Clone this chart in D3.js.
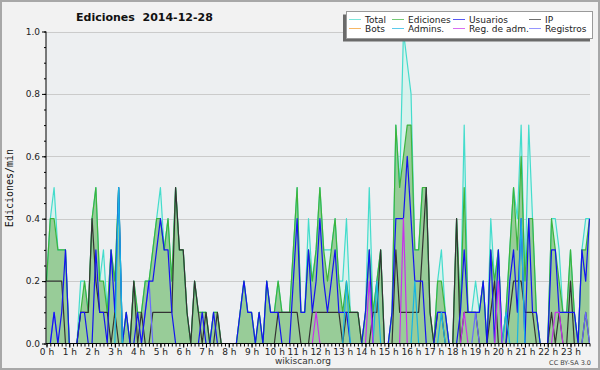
<!DOCTYPE html>
<html>
<head>
<meta charset="utf-8">
<script src="https://cdn.jsdelivr.net/npm/d3@7"></script>
<style>
  body { margin: 0; background: #f2f2f2; }
  svg { display: block; font-family: "DejaVu Sans", sans-serif; }
</style>
</head>
<body>
<div id="chart"></div>
<script>
// etiquetas de horas
const hours = d3.range(24).map(h => h + " h");
const yTicks = [0, 0.2, 0.4, 0.6, 0.8, 1.0];

// ediciones/min por tramos de 10 min (144 puntos)
const total = [
  .2,.4,.5,.3,.3,.3, 0,0,0,.2,.2,.1, .4,.5,.2,.3,.1,.3, .2,.5,0,.1,0,.2,
  .1,.1,.2,.2,.3,.4, .5,.3,.4,.2,.5,.3, .3,.1,0,.2,.1,.1, .1,0,.1,.1,0,0,
  0,0,0,.1,.2,.1, .1,0,.1,0,.2,.1, .1,.2,.1,.1,.1,.3, .5,.1,.1,.4,.2,.3,
  .5,.3,.3,.3,.4,.2, .2,.4,.1,.1,.1,0, .1,.5,.1,.2,.3,0, 0,.1,.7,.5,1.0,.9,
  .8,.3,.3,.5,.5,.1, 0,.2,.3,.1,0,0, .4,.1,.7,.1,.1,.2, .1,.2,0,.4,.2,.3,
  0,.1,.3,.5,.4,.7, .2,.7,.4,.1,0,0, 0,.4,.4,.3,.1,.1, .3,.1,0,.3,.4,.4
];
const ediciones = [
  .2,.4,.4,.3,.3,.3, 0,0,0,.1,.2,.1, .4,.5,.2,.2,.1,.3, .2,.5,0,.1,0,.2,
  .1,.1,.2,.2,.3,.4, .4,.3,.4,.2,.5,.3, .3,.1,0,.2,.1,.1, .1,0,.1,.1,0,0,
  0,0,0,.1,.2,.1, .1,0,.1,0,.2,.1, .1,.2,.1,.1,.1,.3, .5,.1,.1,.3,.2,.3,
  .5,.3,.2,.3,.4,.2, .1,.2,.1,.1,.1,0, .1,.3,.1,.2,.3,0, 0,.1,.7,.5,.6,.7,
  .7,.3,.3,.5,.5,.1, 0,.2,.2,.1,0,0, .4,.1,.5,.1,.1,.1, .1,.2,0,.3,.2,.3,
  0,.1,.3,.5,.3,.6, .2,.4,.4,.1,0,0, 0,.4,.3,.2,.1,.1, .3,.1,0,.3,.3,.4
];
const usuarios = [
  0,0,.1,0,.1,.3, 0,0,0,.1,.1,0, 0,.3,.1,.1,0,.3, .1,.5,0,.1,0,0,
  .1,0,.1,.2,.2,.3, .4,.3,.3,.1,0,0, 0,0,0,0,0,.1, 0,0,.1,0,0,0,
  0,0,0,.1,.2,.1, .1,0,.1,0,.2,.1, .1,.1,0,0,0,.2, .4,.1,.1,.3,.1,.2,
  .4,.2,.1,.2,.3,.1, .1,.1,0,0,0,0, .1,.3,0,0,0,0, 0,.1,.4,.4,.4,.6,
  .4,.2,.2,.2,0,0, 0,.1,.1,.1,0,0, 0,.1,.3,.1,.1,.1, .1,.2,0,.3,0,.3,
  0,0,.2,.3,.1,.4, 0,.4,.1,.1,0,0, 0,.3,.3,.1,.1,.1, .1,.1,0,.3,.2,.4
];
const ip = [
  .2,.2,.2,.2,.2,0, 0,0,0,.1,.1,.1, .4,.2,.1,.1,.1,0, .1,0,0,0,0,.2,
  0,.1,0,0,.1,.1, .1,.1,.1,.1,.5,.3, .3,.1,0,.2,.1,0, .1,0,0,.1,0,0,
  0,0,0,0,0,0, 0,0,0,0,0,0, 0,.1,.1,.1,.1,.1, .1,0,0,0,.1,.1,
  .1,.1,.1,.1,.1,.1, 0,.1,.1,.1,.1,0, 0,0,.1,.1,.3,0, 0,0,.3,.1,.1,.1,
  .1,.1,.1,.3,.5,.1, 0,.1,.1,0,0,0, .4,0,.1,.1,.1,.1, 0,0,0,.1,.2,0,
  0,0,.1,.2,.2,.2, .1,.1,.1,0,0,0, 0,.1,0,.1,0,0, .2,0,0,0,.1,0
];
const bots = d3.range(144).map(() => 0);
const admins = [
  0,0,0,0,0,0, 0,0,0,0,0,0, 0,0,0,0,0,0, 0,.5,0,0,0,0,
  0,0,0,0,0,0, 0,0,0,0,0,0, 0,0,0,0,0,0, 0,0,0,0,0,0,
  0,0,0,0,0,0, 0,0,0,0,0,0, 0,0,0,0,0,0, 0,0,0,0,0,0,
  0,0,0,0,0,0, 0,.2,0,0,0,0, 0,0,0,.2,0,0, 0,0,0,0,0,0,
  0,.2,0,0,0,0, 0,0,.1,0,0,0, 0,0,0,0,0,0, 0,0,0,0,0,0,
  0,.1,0,0,0,.4, 0,0,0,0,0,0, 0,0,0,0,0,0, 0,0,0,0,0,0
];
const regAdm = [
  0,0,0,0,0,0, 0,0,0,0,0,0, 0,0,0,0,0,0, 0,0,0,0,0,0,
  0,0,0,0,0,0, 0,0,0,0,0,0, 0,0,0,0,0,0, 0,0,0,0,0,0,
  0,0,0,0,0,0, 0,0,0,0,0,0, 0,0,0,0,0,0, 0,0,0,0,0,.1,
  0,0,0,0,0,0, 0,0,0,0,0,0, 0,.2,0,0,0,0, 0,0,0,0,.4,0,
  0,0,0,0,0,0, 0,0,0,0,0,0, 0,0,.1,0,0,0, 0,0,0,0,0,.2,
  0,0,0,0,0,0, 0,0,0,0,0,0, 0,0,.1,.1,0,0, 0,0,0,0,0,0
];
const registros = [
  0,0,.1,0,0,0, 0,0,0,0,0,0, 0,0,0,0,0,0, 0,0,0,0,0,0,
  0,0,.1,.2,0,0, 0,0,0,0,0,0, 0,0,0,0,0,0, 0,0,0,0,0,0,
  0,0,0,0,0,0, 0,0,0,0,0,0, 0,0,0,0,0,0, 0,0,0,0,0,0,
  0,0,0,0,0,0, 0,0,0,0,0,0, 0,0,0,0,0,0, 0,0,0,0,0,0,
  0,0,0,0,0,0, 0,0,0,0,0,0, 0,0,0,0,0,.1, 0,0,0,0,0,0,
  0,0,0,0,0,0, 0,0,0,0,0,0, 0,0,0,0,0,0, 0,0,0,0,.1,0
];

const series = [
  {name: "Total", data: total, color: "#44dccc"},
  {name: "Ediciones", data: ediciones, color: "#3cb43c"},
  {name: "Usuarios", data: usuarios, color: "#1414f0"},
  {name: "IP", data: ip, color: "#333333"},
  {name: "Bots", data: bots, color: "#f59a23"},
  {name: "Admins.", data: admins, color: "#18b4e4"},
  {name: "Reg. de adm.", data: regAdm, color: "#c832ec"},
  {name: "Registros", data: registros, color: "#6a6aff"}
];

const W = 600, H = 370;
const plotL = 46, plotR = 590, plotT = 31.5, plotB = 343.5;

const svg = d3.select("#chart").append("svg")
  .attr("width", W).attr("height", H);

svg.append("rect").attr("x", 1).attr("y", 1).attr("width", W - 2).attr("height", H - 2)
  .attr("fill", "#f2f2f2").attr("stroke", "#a8a8a8").attr("stroke-width", 2);

var x = d3.scaleLinear().domain([0, 143]).range([plotL + 0.5, 589.5]);
var y = d3.scaleLinear().domain([0, 1]).range([plotB, plotT]);

svg.append("rect").attr("x", plotL).attr("y", plotT).attr("width", plotR - plotL).attr("height", plotB - plotT)
  .attr("fill", "#edeff1");

// grid
svg.append("g").selectAll("line").data(yTicks.slice(1)).enter().append("line")
  .attr("x1", plotL).attr("x2", plotR)
  .attr("y1", d => Math.round(y(d)) + 0.5).attr("y2", d => Math.round(y(d)) + 0.5)
  .attr("stroke", "#cbcbcb").attr("stroke-width", 1);

// areas
const areaOf = (data) => d3.area().x((d, i) => x(i)).y0(plotB).y1(d => y(d))(data);
svg.append("path").attr("d", areaOf(total)).attr("fill", "#d2f2ec").attr("opacity", 0.8);
svg.append("path").attr("d", areaOf(ediciones)).attr("fill", "#98cc98");

// lines
const lineOf = (data) => d3.line().x((d, i) => x(i)).y(d => y(d))(data);
const drawOrder = ["Total", "Ediciones", "Bots", "IP", "Registros", "Usuarios", "Admins.", "Reg. de adm."];
drawOrder.forEach(n => {
  const s = series.find(s => s.name == n);
  if (d3.max(s.data) == 0) return;
  svg.append("path").attr("d", lineOf(s.data))
    .attr("fill", "none").attr("stroke", s.color).attr("stroke-width", 1.2)
    .attr("stroke-linejoin", "round");
});

// axes
var xAxis = svg.append("g").attr("transform", "translate(0," + plotB + ")");
xAxis.append("g").call(d3.axisBottom(x).tickValues(d3.range(0, 144)).tickSize(3).tickFormat(""))
  .call(g => g.select(".domain").remove());
xAxis.append("g").call(d3.axisBottom(x).tickValues(d3.range(0, 144, 6)).tickSize(4)
    .tickFormat(i => hours[i / 6]))
  .call(g => g.select(".domain").remove())
  .selectAll("text").attr("dy", "0.45em").attr("font-size", 9).attr("fill", "#222")
  .attr("font-family", "DejaVu Sans");
xAxis.append("line").attr("x1", plotL).attr("x2", plotR).attr("stroke", "#000");

var yAxis = svg.append("g").attr("transform", "translate(" + plotL + ",0)");
yAxis.append("g").call(d3.axisLeft(y).tickValues(d3.range(0, 1.001, 0.05)).tickSize(2).tickFormat(""))
  .call(g => g.select(".domain").remove());
yAxis.append("g").call(d3.axisLeft(y).tickValues(yTicks).tickSize(4).tickPadding(2)
    .tickFormat(d3.format(".1f")))
  .call(g => g.select(".domain").remove())
  .selectAll("text").attr("font-size", 9).attr("fill", "#222").attr("font-family", "DejaVu Sans");
yAxis.append("line").attr("y1", plotT).attr("y2", plotB).attr("stroke", "#000");

// titles
svg.append("text").attr("x", 76).attr("y", 21).attr("font-size", 11).attr("font-weight", "bold")
  .attr("fill", "#111").text("Ediciones  2014-12-28").style("white-space", "pre");
svg.append("text").attr("transform", "translate(13,188) rotate(-90)").attr("text-anchor", "middle")
  .attr("font-family", "DejaVu Sans Mono").attr("font-size", 10).attr("fill", "#111").text("Ediciones/min");
svg.append("text").attr("x", 303).attr("y", 364).attr("text-anchor", "middle")
  .attr("font-size", 9).attr("fill", "#333").text("wikiscan.org");
svg.append("text").attr("x", 591).attr("y", 365).attr("text-anchor", "end")
  .attr("font-size", 6.5).attr("fill", "#444").text("CC BY-SA 3.0");

// legend
var legend = svg.append("g");
legend.append("rect").attr("x", 343).attr("y", 14.5).attr("width", 247).attr("height", 27)
  .attr("fill", "#6a6a6a");
legend.append("rect").attr("x", 346.5).attr("y", 11.5).attr("width", 246).attr("height", 27)
  .attr("fill", "#fff").attr("stroke", "#9a9a9a");
const colX = [349, 392, 453, 529];
series.forEach((s, i) => {
  const cx = colX[i % 4], cy = i < 4 ? 19.5 : 28.5;
  legend.append("line").attr("x1", cx).attr("x2", cx + 12).attr("y1", cy).attr("y2", cy)
    .attr("stroke", s.color).attr("stroke-width", 1).attr("opacity", 0.7);
  legend.append("text").attr("x", cx + 16).attr("y", cy + 3.5).attr("font-size", 9)
    .attr("fill", "#222").text(s.name);
});
</script>
</body>
</html>
